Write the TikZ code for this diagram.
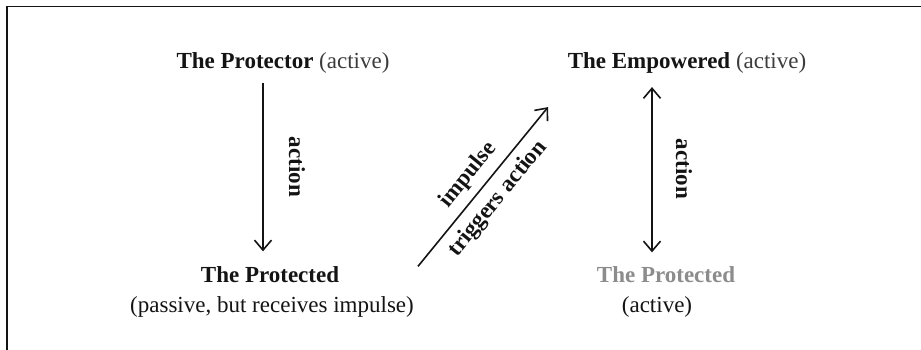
\documentclass[tikz,border=0pt]{standalone}
\usepackage{fontspec}
\setmainfont{Liberation Serif}
\usetikzlibrary{arrows.meta}
\definecolor{ink}{HTML}{141414}
\definecolor{soft}{HTML}{3C3C3C}
\definecolor{faded}{HTML}{8C8C8C}
\begin{document}
\begin{tikzpicture}[x=1pt,y=-1pt,
  txt/.style={inner sep=0pt, text=ink, font=\fontsize{23}{27}\selectfont, anchor=base},
  lbl/.style={inner sep=0pt, text=ink, font=\fontsize{23}{27}\selectfont\bfseries},
  tip/.style={Straight Barb[length=10pt,width=17pt,line width=1.6pt]},
  arr/.style={line width=1.6pt, draw=ink, -{Straight Barb[length=10pt,width=17pt,line width=1.6pt]}},
  darr/.style={line width=1.6pt, draw=ink, {Straight Barb[length=10pt,width=17pt,line width=1.6pt]}-{Straight Barb[length=10pt,width=17pt,line width=1.6pt]}}]
\useasboundingbox (0,0) rectangle (921,350);
\clip (0,0) rectangle (921,350);
\fill[white] (0,0) rectangle (921,350);
% frame, running off the right and bottom edges
\draw[line width=1.5pt, draw=ink] (7,360) -- (7,6.5) -- (930,6.5);

% left column
\node[txt] (prot) at (283,69) {\textbf{The Protector} \textcolor{soft}{(active)}};
\node[txt] (ptd) at (270,282) {\textbf{The Protected}};
\node[txt] (ptdnote) at (272,312) {(passive, but receives impulse)};

% right column
\node[txt] (emp) at (687,69) {\textbf{The Empowered} \textcolor{soft}{(active)}};
\node[txt, text=faded] (emd) at (666,282) {\textbf{The Protected}};
\node[txt] (emdnote) at (657,312) {(active)};

% connectors
\draw[arr] ([shift={(-20,9)}]prot.south) -- ([shift={(-7,-14.5)}]ptd.north);
\node[lbl, rotate=-90] (act1) at (297,167) {action};

\draw[darr] ([shift={(-14,-13.5)}]emd.north) -- ([shift={(-35,13)}]emp.south);
\node[lbl, rotate=-90] (act2) at (684,169) {action};

\draw[arr] ([shift={(4,-29.5)}]ptdnote.north east) -- ([shift={(-19.5,33)}]emp.south west)
  node[midway, sloped, above=7.5pt, lbl] (imp) {impulse}
  node[midway, sloped, below=8pt, lbl] (trg) {triggers action};
\end{tikzpicture}
\end{document}
